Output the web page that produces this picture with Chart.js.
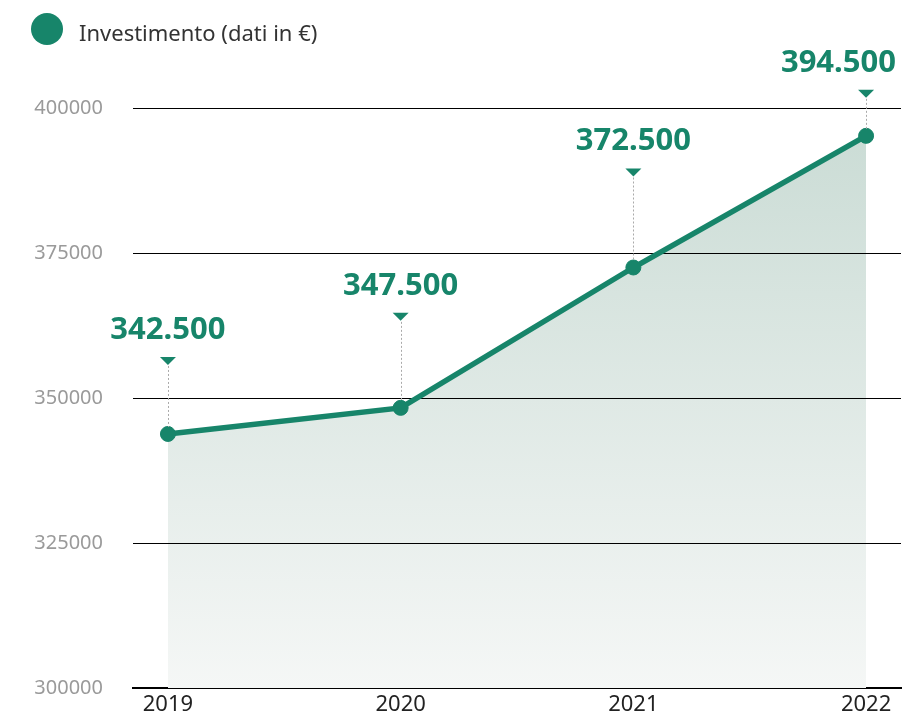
<!DOCTYPE html>
<html>
<head>
<meta charset="utf-8">
<script src="https://cdn.jsdelivr.net/npm/chart.js@4"></script>
<style>
  html, body { margin: 0; padding: 0; background: #fff; }
  #wrap { width: 913px; height: 720px; }
</style>
</head>
<body>
<div id="wrap"><canvas id="investChart"></canvas></div>
<script>
const years = [2019, 2020, 2021, 2022];
// plotted values; callout texts as printed
const investimento = [343800, 348300, 372500, 395200];
const valueLabels = ['342.500', '347.500', '372.500', '394.500'];
const yTicks = [300000, 325000, 350000, 375000, 400000];
const seriesName = 'Investimento (dati in €)';

// how far above each point the callout marker sits (px)
const labelLift = [77, 95, 99, 46];

const GREEN = '#17856a';
const FONT = "'Noto Sans', sans-serif";

const legendPlugin = {
    id: 'topLegend',
    afterDraw(chart) {
        const ctx = chart.ctx;
        ctx.save();
        ctx.fillStyle = GREEN;
        ctx.beginPath();
        ctx.arc(47, 29, 16, 0, Math.PI * 2);
        ctx.fill();
        ctx.fillStyle = '#333';
        ctx.font = '22px ' + FONT;
        ctx.textBaseline = 'middle';
        ctx.fillText(chart.data.datasets[0].label, 79, 35);
        ctx.restore();
    }
};

// grid lines go over the area fill but under the line
const gridOverFill = {
    id: 'gridOverFill',
    beforeDatasetsDraw(chart) {
        const ctx = chart.ctx;
        const y = chart.scales.y;
        const area = chart.chartArea;
        ctx.save();
        ctx.strokeStyle = '#000';
        ctx.lineWidth = 1;
        yTicks.forEach(v => {
            const py = Math.round(y.getPixelForValue(v)) + 0.5;
            ctx.beginPath();
            ctx.moveTo(area.left, py);
            ctx.lineTo(area.right, py);
            ctx.stroke();
        });
        ctx.restore();
    }
};

const calloutPlugin = {
    id: 'callouts',
    afterDatasetsDraw(chart) {
        const ctx = chart.ctx;
        const meta = chart.getDatasetMeta(0);
        ctx.save();
        meta.data.forEach((pt, i) => {
            const x = pt.x, y = pt.y;
            const triTop = y - labelLift[i];
            ctx.strokeStyle = '#aaa';
            ctx.lineWidth = 1;
            ctx.setLineDash([2, 2]);
            ctx.beginPath();
            ctx.moveTo(Math.round(x) + 0.5, triTop + 9);
            ctx.lineTo(Math.round(x) + 0.5, y - 7);
            ctx.stroke();
            ctx.setLineDash([]);
            ctx.fillStyle = GREEN;
            ctx.beginPath();
            ctx.moveTo(x - 8, triTop);
            ctx.lineTo(x + 8, triTop);
            ctx.lineTo(x, triTop + 8);
            ctx.closePath();
            ctx.fill();
            ctx.font = 'bold 31px ' + FONT;
            ctx.textAlign = 'center';
            ctx.textBaseline = 'middle';
            const w = ctx.measureText(valueLabels[i]).width;
            let tx = x;
            if (tx + w / 2 > chart.width - 17) tx = chart.width - 17 - w / 2;
            ctx.fillText(valueLabels[i], tx, triTop - 27);
        });
        ctx.restore();
    }
};

const points = years.map((yr, i) => ({ x: yr, y: investimento[i] }));

const ctx = document.getElementById('investChart').getContext('2d');
new Chart(ctx, {
    type: 'line',
    data: {
        datasets: [{
            label: seriesName,
            data: points,
            borderColor: GREEN,
            borderWidth: 5.5,
            pointBackgroundColor: GREEN,
            pointBorderColor: GREEN,
            pointBorderWidth: 1,
            pointRadius: 7.5,
            pointHoverRadius: 7.5,
            tension: 0,
            fill: 'start',
            backgroundColor: function (c) {
                const area = c.chart.chartArea;
                if (!area) return '#dfe8e4';
                const g = c.chart.ctx.createLinearGradient(0, area.top, 0, area.bottom);
                g.addColorStop(0, '#c9dbd4');
                g.addColorStop(1, '#f5f7f6');
                return g;
            }
        }]
    },
    options: {
        responsive: true,
        maintainAspectRatio: false,
        animation: false,
        layout: { padding: { top: 108, right: 12, left: 0, bottom: 0 } },
        scales: {
            x: {
                type: 'linear',
                min: 2018.85,
                max: 2022.15,
                afterBuildTicks(scale) {
                    scale.ticks = years.map(v => ({ value: v }));
                },
                grid: { display: false, drawTicks: false },
                border: { display: true, color: '#000', width: 2 },
                ticks: {
                    color: '#222',
                    font: { family: FONT, size: 22 },
                    padding: 4,
                    maxRotation: 0,
                    callback: v => String(v)
                },
                afterFit(scale) {
                    scale.height = 32;
                    scale.paddingLeft = 0;
                    scale.paddingRight = 0;
                }
            },
            y: {
                min: 300000,
                max: 400000,
                afterBuildTicks(scale) {
                    scale.ticks = yTicks.map(v => ({ value: v }));
                },
                grid: { display: false, drawTicks: false },
                border: { display: false },
                ticks: {
                    color: '#9a9a9a',
                    font: { family: FONT, size: 20 },
                    padding: 30,
                    callback: v => String(v)
                },
                afterFit(scale) {
                    scale.width = 133;
                    scale.paddingTop = 0;
                    scale.paddingBottom = 0;
                }
            }
        },
        plugins: {
            legend: { display: false },
            tooltip: { enabled: false },
            filler: { drawTime: 'beforeDatasetsDraw' }
        }
    },
    plugins: [gridOverFill, legendPlugin, calloutPlugin]
});
</script>
</body>
</html>
